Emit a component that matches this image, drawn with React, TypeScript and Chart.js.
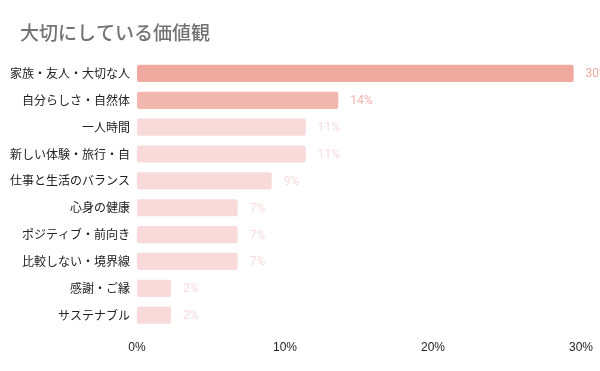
import React, { useEffect, useRef } from "react";
import { Chart, registerables } from "chart.js";

Chart.register(...registerables);

const titleText = "大切にしている価値観";
const categories = [
  "家族・友人・大切な人",
  "自分らしさ・自然体",
  "一人時間",
  "新しい体験・旅行・自",
  "仕事と生活のバランス",
  "心身の健康",
  "ポジティブ・前向き",
  "比較しない・境界線",
  "感謝・ご縁",
  "サステナブル",
];
const values = [29.5, 13.6, 11.4, 11.4, 9.1, 6.8, 6.8, 6.8, 2.3, 2.3];
const barColors = [
  "#F0A99F",
  "#F2B8B0",
  "#F8DADB",
  "#F8DADB",
  "#F8DADB",
  "#F8DADB",
  "#F8DADB",
  "#F8DADB",
  "#F8DADB",
  "#F8DADB",
];
const labelColors = [
  "#F0A99F",
  "#F2B3AA",
  "#F9DCDD",
  "#F9DCDD",
  "#F9DCDD",
  "#F9DCDD",
  "#F9DCDD",
  "#F9DCDD",
  "#F9DCDD",
  "#F9DCDD",
];
const xTicks = [0, 10, 20, 30];

const valueLabels = {
  id: "valueLabels",
  afterDatasetsDraw(chart: any) {
    const ctx = chart.ctx;
    const meta = chart.getDatasetMeta(0);
    ctx.save();
    ctx.font = "12px Roboto";
    ctx.textBaseline = "middle";
    ctx.textAlign = "left";
    meta.data.forEach((bar: any, i: number) => {
      ctx.fillStyle = labelColors[i];
      ctx.fillText(Math.round(values[i]) + "%", bar.x + 12, bar.y + 1);
    });
    ctx.restore();
  },
};

const titlePlugin = {
  id: "leftTitle",
  afterDraw(chart: any) {
    const ctx = chart.ctx;
    ctx.save();
    ctx.font = "500 19px 'Noto Sans CJK JP'";
    ctx.fillStyle = "#737373";
    ctx.textBaseline = "middle";
    ctx.textAlign = "left";
    ctx.fillText(titleText, 20, 33);
    ctx.restore();
  },
};

export default function App() {
  const ref = useRef<HTMLCanvasElement>(null);
  useEffect(() => {
    if (!ref.current) return;
    const chart = new Chart(ref.current, {
      type: "bar",
      data: {
        labels: categories,
        datasets: [
          {
            data: values,
            backgroundColor: barColors,
            borderRadius: 2,
            borderSkipped: false,
            barPercentage: 0.64,
            categoryPercentage: 1,
          },
        ],
      },
      options: {
        indexAxis: "y",
        animation: false,
        responsive: false,
        layout: { padding: { left: 0, right: 19, bottom: 12, top: 60 } },
        plugins: {
          legend: { display: false },
          tooltip: { enabled: false },
          title: { display: false },
        },
        scales: {
          x: {
            min: 0,
            max: 30,
            afterBuildTicks: (axis: any) => {
              axis.ticks = xTicks.map((v) => ({ value: v }));
            },
            grid: { display: false },
            border: { display: false },
            ticks: {
              color: "#222",
              font: { size: 12, family: "'Liberation Sans', Arial" },
              padding: 4,
              callback: (v: any) => v + "%",
            },
          },
          y: {
            afterFit: (axis: any) => {
              axis.width = 137;
            },
            grid: { display: false, drawTicks: false, tickLength: 0 },
            border: { display: false },
            ticks: {
              color: "#222",
              font: { size: 12, family: "'Noto Sans CJK JP'" },
              padding: 7,
            },
          },
        },
      },
      plugins: [valueLabels, titlePlugin],
    });
    return () => chart.destroy();
  }, []);
  return (
    <div style={{ position: "fixed", left: 0, top: 0, width: 600, height: 371, background: "#fff" }}>
      <canvas ref={ref} width={600} height={371} />
    </div>
  );
}
